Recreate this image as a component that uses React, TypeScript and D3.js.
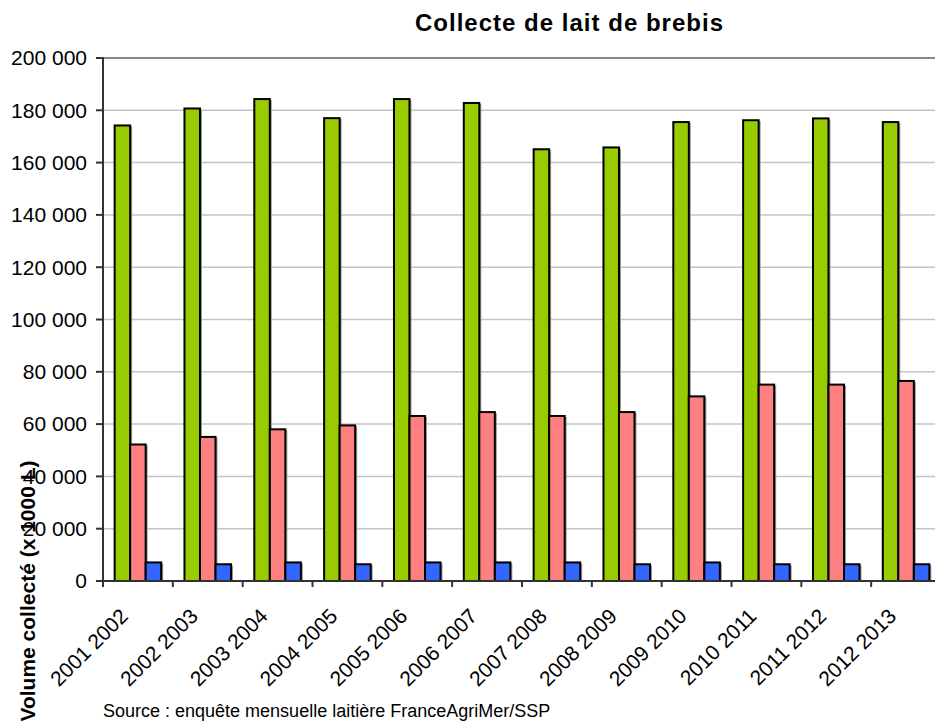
import React from "react";
import * as d3 from "d3";

const categories = [
  "2001 2002", "2002 2003", "2003 2004", "2004 2005", "2005 2006", "2006 2007",
  "2007 2008", "2008 2009", "2009 2010", "2010 2011", "2011 2012", "2012 2013",
];
const greenValues = [174200, 180700, 184300, 177000, 184300, 182800, 165100, 165800, 175500, 176200, 176900, 175500];
const pinkValues = [52200, 55100, 58000, 59500, 63100, 64600, 63100, 64600, 70600, 75100, 75100, 76500];
const blueValues = [7100, 6400, 7100, 6400, 7100, 7100, 7100, 6400, 7100, 6400, 6400, 6400];
const yTicks = [0, 20000, 40000, 60000, 80000, 100000, 120000, 140000, 160000, 180000, 200000];
const colors = ["#99CC00", "#FF8080", "#3366FF"];

const W = 935, H = 726;
const left = 103, top = 58, right = 941, bottom = 581;
const FONT = "'Liberation Sans', Arial, sans-serif";

function fmt(v: number) {
  return d3.format(",")(v).replace(/,/g, " ");
}

export default function App() {
  const x = d3.scaleBand<string>().domain(categories).range([left, right]).paddingInner(0).paddingOuter(0);
  const y = d3.scaleLinear().domain([0, 200000]).range([bottom, top]);
  const series = [greenValues, pinkValues, blueValues];
  const bw = x.bandwidth();
  const barW = bw / 4.5;
  const inner = d3.scaleBand<number>().domain([0, 1, 2]).range([barW * 0.75, barW * 3.75]);

  return (
    <svg width={W} height={H} style={{ position: "absolute", left: 0, top: 0 }} fontFamily={FONT}>
      <rect width={W} height={H} fill="#fff" />
      {yTicks.slice(1, -1).map((t) => (
        <line key={t} x1={left} x2={right} y1={y(t)} y2={y(t)} stroke="#c4c4c4" strokeWidth={1.5} />
      ))}
      <line x1={left} x2={right} y1={y(200000)} y2={y(200000)} stroke="#888" strokeWidth={2} />
      {categories.map((c, i) => (
        <g key={c}>
          {series.map((vals, s) => {
            const bx = (x(c) as number) + (inner(s) as number);
            const by = y(vals[i]);
            const h = bottom - by;
            return (
              <g key={s}>
                <rect x={bx + 2} y={by + 1} width={barW} height={h - 1} fill="#9a9a9a" />
                <rect x={bx} y={by} width={barW} height={h} fill={colors[s]} stroke="#000" strokeWidth={2} />
              </g>
            );
          })}
        </g>
      ))}
      <line x1={left} x2={left} y1={top - 1} y2={bottom} stroke="#333" strokeWidth={2} />
      <line x1={left - 7} x2={right} y1={bottom} y2={bottom} stroke="#333" strokeWidth={2} />
      {yTicks.map((t) => (
        <g key={t}>
          <line x1={left - 7} x2={left} y1={y(t)} y2={y(t)} stroke="#333" strokeWidth={2} />
          <text x={87} y={y(t)} dy="0.35em" textAnchor="end" fontSize={21} fill="#000">
            {fmt(t)}
          </text>
        </g>
      ))}
      {categories.map((c) => (
        <line key={"t" + c} x1={x(c) as number} x2={x(c) as number} y1={bottom} y2={bottom + 6} stroke="#333" strokeWidth={2} />
      ))}
      {categories.map((c) => {
        const cx = (x(c) as number) + bw / 2 - 19;
        const cy = bottom + 26;
        return (
          <text key={"l" + c} transform={`translate(${cx},${cy}) rotate(-45)`} textAnchor="end" dy="0.7em" fontSize={21} fill="#000">
            {c}
          </text>
        );
      })}
      <text x={569} y={31} textAnchor="middle" fontSize={24} fontWeight="bold" fill="#000" textLength={308} lengthAdjust="spacing">
        Collecte de lait de brebis
      </text>
      <text transform={`translate(35,591) rotate(-90)`} textAnchor="middle" fontSize={21} fontWeight="bold" fill="#000">
        Volume collecté (x 1000 L)
      </text>
      <text x={103} y={717} fontSize={18} fill="#000">
        Source : enquête mensuelle laitière FranceAgriMer/SSP
      </text>
    </svg>
  );
}
